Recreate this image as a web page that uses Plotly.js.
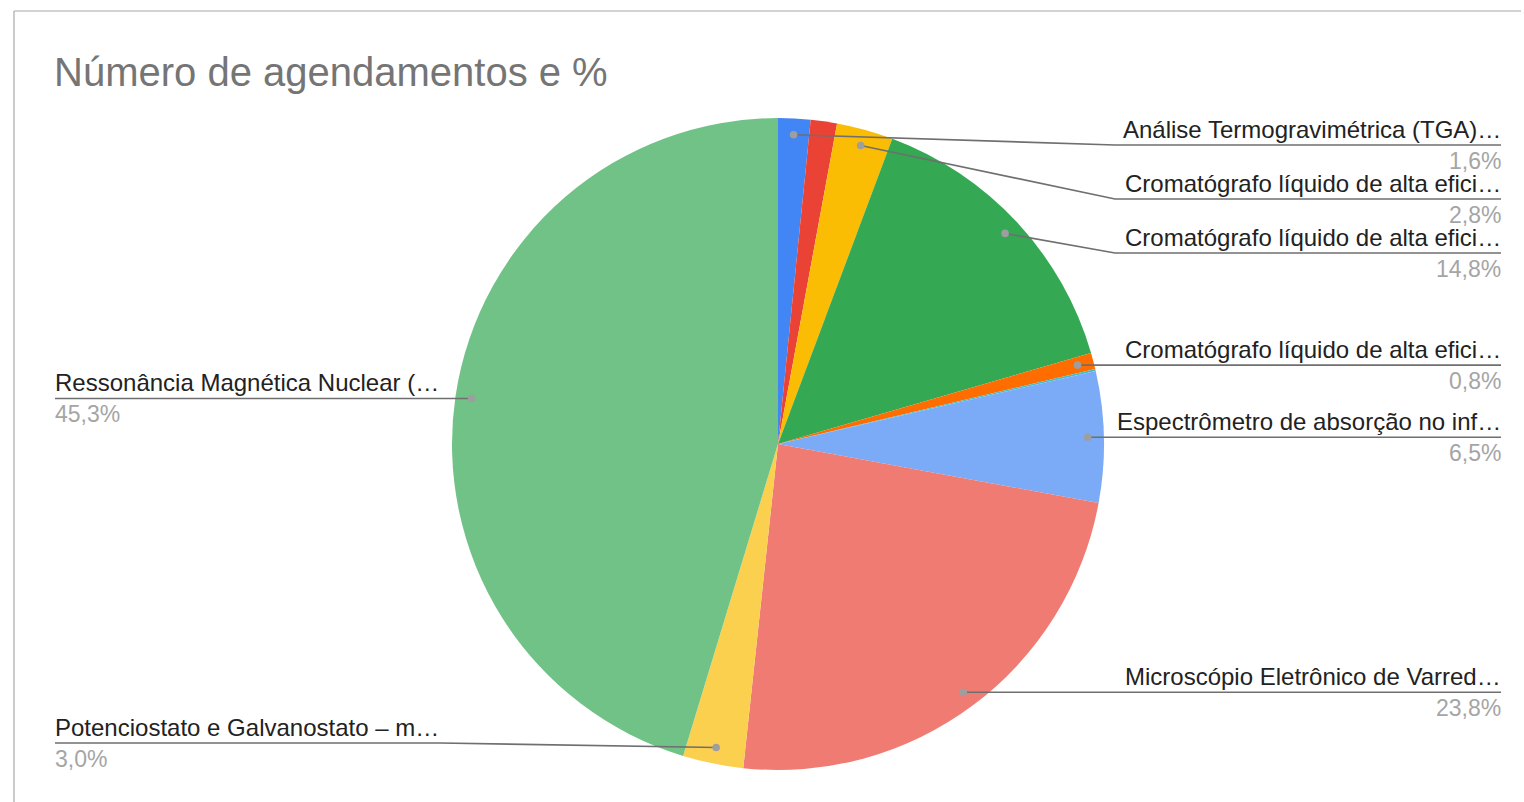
<!DOCTYPE html>
<html>
<head>
<meta charset="utf-8">
<script src="https://cdn.plot.ly/plotly-3.0.1.min.js"></script>
<style>html,body{margin:0;padding:0;background:#fff;}#chart{width:1524px;height:802px;}</style>
</head>
<body>
<div id="chart"></div>
<script>
// ---- data ----
const labels = [
  "Análise Termogravimétrica (TGA)…",
  "Sem rótulo 1",
  "Cromatógrafo líquido de alta efici… (2,8%)",
  "Cromatógrafo líquido de alta efici… (14,8%)",
  "Cromatógrafo líquido de alta efici… (0,8%)",
  "Sem rótulo 2",
  "Espectrômetro de absorção no inf…",
  "Microscópio Eletrônico de Varred…",
  "Potenciostato e Galvanostato – m…",
  "Ressonância Magnética Nuclear (…"
];
const shownText = [
  "Análise Termogravimétrica (TGA)…",
  "",
  "Cromatógrafo líquido de alta efici…",
  "Cromatógrafo líquido de alta efici…",
  "Cromatógrafo líquido de alta efici…",
  "",
  "Espectrômetro de absorção no inf…",
  "Microscópio Eletrônico de Varred…",
  "Potenciostato e Galvanostato – m…",
  "Ressonância Magnética Nuclear (…"
];
const values = [1.6, 1.3, 2.8, 14.8, 0.8, 0.1, 6.5, 23.8, 3.0, 45.3];
const colors = ["#4285F4","#EA4335","#FBBC04","#34A853","#FF6D01","#46BDC6","#7BAAF7","#F07B72","#FCD04F","#71C287"];
const title = "Número de agendamentos e %";

// ---- layout constants (pixels) ----
const W = 1524, H = 802;
const cx = 778, cy = 444, R = 326;
const font = "Liberation Sans, Arial, sans-serif";
const lineColor = "#6f6f6f", dotColor = "#9e9e9e";
const rightLineX = 1501, leftLineX = 55, rightBend = 1115, leftBend = 440;
const rightTextX = 1502, leftTextX = 54;
const spacing = 54, minY = 145, maxY = 743;

const px = x => x / W;
const py = y => 1 - y / H;

const total = values.reduce((a, b) => a + b, 0);
let cum = 0;
const items = [];
values.forEach((v, i) => {
  const mid = (cum + v / 2) / total * 2 * Math.PI;
  cum += v;
  if (!shownText[i]) return;
  items.push({
    i,
    dx: cx + 0.95 * R * Math.sin(mid),
    dy: cy - 0.95 * R * Math.cos(mid),
    right: Math.sin(mid) >= 0,
    pct: (v / total * 100).toFixed(1).replace(".", ",") + "%"
  });
});

function place(list) {
  list.sort((a, b) => a.dy - b.dy);
  let prev = -Infinity;
  list.forEach(it => {
    it.ly = Math.max(it.dy, prev + spacing, minY);
    prev = it.ly;
  });
  let next = Infinity;
  for (let k = list.length - 1; k >= 0; k--) {
    list[k].ly = Math.min(list[k].ly, maxY, next - spacing);
    next = list[k].ly;
  }
}
const rightItems = items.filter(d => d.right);
const leftItems = items.filter(d => !d.right);
place(rightItems); place(leftItems);

const shapes = [
  {type: "line", xref: "paper", yref: "paper", x0: px(14), x1: px(1521), y0: py(11), y1: py(11), line: {color: "#a8a8a8", width: 1.2}},
  {type: "line", xref: "paper", yref: "paper", x0: px(14), x1: px(14), y0: py(11), y1: py(802), line: {color: "#a8a8a8", width: 1.2}}
];
const annotations = [{
  text: title, xref: "paper", yref: "paper", x: px(52), y: py(48), xanchor: "left", yanchor: "top",
  showarrow: false, font: {family: font, size: 40, color: "#757575"}
}];

items.forEach(it => {
  let path;
  if (it.right) {
    const bx = Math.max(rightBend, it.dx);
    path = `M ${px(it.dx)} ${py(it.dy)} L ${px(bx)} ${py(it.ly)} L ${px(rightLineX)} ${py(it.ly)}`;
  } else {
    const bx = Math.min(leftBend, it.dx);
    path = `M ${px(it.dx)} ${py(it.dy)} L ${px(bx)} ${py(it.ly)} L ${px(leftLineX)} ${py(it.ly)}`;
  }
  shapes.push({type: "path", xref: "paper", yref: "paper", path, line: {color: lineColor, width: 1.6}});
  const r = 3.8;
  shapes.push({type: "circle", xref: "paper", yref: "paper",
    x0: px(it.dx - r), x1: px(it.dx + r), y0: py(it.dy + r), y1: py(it.dy - r),
    fillcolor: dotColor, line: {width: 0}});
  const tx = it.right ? px(rightTextX) : px(leftTextX);
  const anchor = it.right ? "right" : "left";
  annotations.push({text: shownText[it.i], xref: "paper", yref: "paper", x: tx, y: py(it.ly - 1),
    xanchor: anchor, yanchor: "bottom", showarrow: false, borderpad: 0,
    font: {family: font, size: 24, color: "#222222"}});
  annotations.push({text: it.pct, xref: "paper", yref: "paper", x: tx, y: py(it.ly + 2),
    xanchor: anchor, yanchor: "top", showarrow: false, borderpad: 0,
    font: {family: font, size: 23, color: "#a5a5a5"}});
});

const trace = {
  type: "pie",
  labels, values,
  sort: false, direction: "clockwise", rotation: 0,
  marker: {colors, line: {width: 0}},
  textinfo: "none", hoverinfo: "label+percent",
  domain: {x: [px(cx - R), px(cx + R)], y: [py(cy + R), py(cy - R)]},
  showlegend: false
};

Plotly.newPlot("chart", [trace], {
  width: W, height: H,
  margin: {l: 0, r: 0, t: 0, b: 0},
  paper_bgcolor: "#ffffff",
  showlegend: false,
  shapes, annotations
}, {displayModeBar: false, staticPlot: true});
</script>
</body>
</html>
